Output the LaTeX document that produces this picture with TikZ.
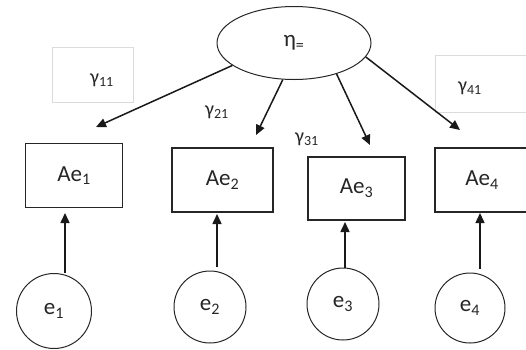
\documentclass[tikz,border=0pt]{standalone}
\usepackage{fontspec}
\setmainfont{Carlito}
\usetikzlibrary{arrows.meta,shapes.geometric}

\begin{document}
\begin{tikzpicture}[x=1pt,y=-1pt,
	every node/.style={font=\fontsize{23}{27}\selectfont, text=black!85},
	indic/.style={draw=black!85, line width=1.1pt, rectangle, minimum width=97pt, minimum height=64pt},
	errc/.style={draw=black!85, line width=1pt, circle, minimum size=72pt},
	coef/.style={font=\fontsize{20}{24}\selectfont},
	faint/.style={draw=black!14, line width=0.8pt, rectangle},
	arr/.style={draw=black!90, line width=1.5pt, -{Triangle[length=10pt,width=9pt]}}]

	\useasboundingbox (0,0) rectangle (526,349);

	% latent variable
	\node[draw=black!85, ellipse, minimum width=154pt, minimum height=73pt, line width=1pt] (eta) at (294,43) {η\textsubscript{=}};

	% indicators
	\node[indic] (ae1) at (74,175.5) {Ae\textsubscript{1}};
	\node[indic, minimum width=101pt] (ae2) at (222.5,180) {Ae\textsubscript{2}};
	\node[indic, minimum height=63pt] (ae3) at (356.5,188.5) {Ae\textsubscript{3}};
	\node[indic, minimum width=94pt] (ae4) at (482,180) {Ae\textsubscript{4}};

	% errors
	\node[errc, minimum size=75pt] (e1) at (54,311) {e\textsubscript{1}};
	\node[errc] (e2) at (210,307) {e\textsubscript{2}};
	\node[errc] (e3) at (343,304) {e\textsubscript{3}};
	\node[errc, minimum size=70pt] (e4) at (470,308) {e\textsubscript{4}};

	% loadings
	\node[faint, minimum width=81pt, minimum height=55pt] (g11box) at (92.5,74.5) {};
	\node[faint, minimum width=95pt, minimum height=57pt] (g41box) at (482.5,83.5) {};
	\node[coef] (g11) at (102,80) {γ\textsubscript{11}};
	\node[coef] (g21) at (217,112) {γ\textsubscript{21}};
	\node[coef] (g31) at (307,139) {γ\textsubscript{31}};
	\node[coef] (g41) at (470,88) {γ\textsubscript{41}};

	\coordinate (t1) at (96,127);
	\coordinate (t2) at (256,135);
	\coordinate (t3) at (370,145);
	\coordinate (t4) at (460,130);

	\draw[arr] (eta.200) -- (t1);
	\draw[arr] (eta.253) -- (t2);
	\draw[arr] (eta.-36) -- (t3);
	\draw[arr] (eta.-11) -- (t4);

	\coordinate (u1) at (65,213);
	\coordinate (u2) at (217,214);
	\coordinate (u3) at (345,222);
	\coordinate (u4) at (480,213);

	\draw[arr] (e1.north -| u1) -- (u1);
	\draw[arr, shorten <=4pt] (e2.north -| u2) -- (u2);
	\draw[arr] (e3.north -| u3) -- (u3);
	\draw[arr, shorten <=4pt] (e4.north -| u4) -- (u4);
\end{tikzpicture}
\end{document}
